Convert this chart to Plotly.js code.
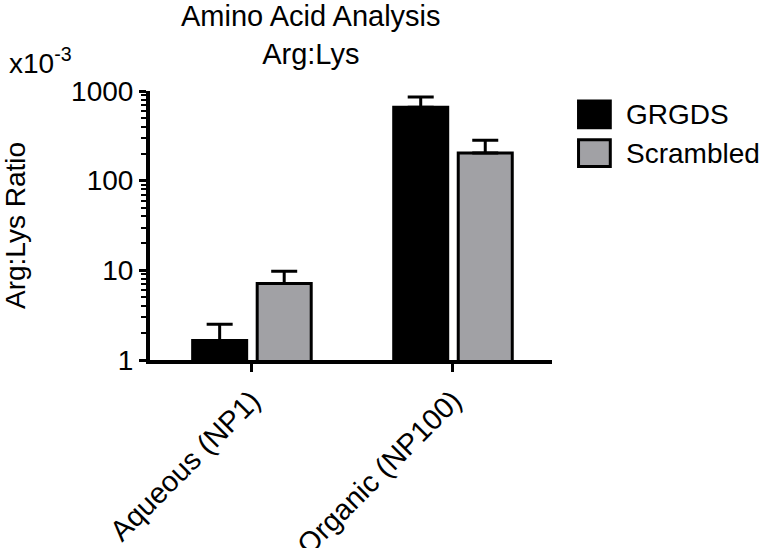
<!DOCTYPE html>
<html>
<head>
<meta charset="utf-8">
<script src="https://cdn.plot.ly/plotly-3.0.1.min.js"></script>
<style>
  body { margin: 0; background: #fff; }
  #plot { width: 768px; height: 548px; }
</style>
</head>
<body>
<div id="plot"></div>
<script>
// values are in units of 1e-3 (see the x10^-3 label)
const categories = ['Aqueous (NP1)', 'Organic (NP100)'];
const seriesNames = ['GRGDS', 'Scrambled'];
const grgds = [1.65, 660];
const grgdsErr = [0.85, 195];
const scrambled = [7.15, 203];
const scrambledErr = [2.6, 80];
const yTickVals = [1, 10, 100, 1000];
const yTickText = ['1', '10', '100', '1000'];

const colors = ['#000000', '#a1a1a5'];
const font = { family: 'Arial, "Liberation Sans", sans-serif', color: '#000' };

function barTrace (name, vals, errs, color) {
  return {
    type: 'bar',
    name,
    x: categories,
    y: vals,
    marker: { color, line: { color: '#000', width: 3 } },
    error_y: {
      type: 'data',
      symmetric: false,
      array: errs,
      arrayminus: errs.map(() => 0),
      color: '#000',
      thickness: 3,
      width: 13
    },
    showlegend: false
  };
}

const data = [
  barTrace(seriesNames[0], grgds, grgdsErr, colors[0]),
  barTrace(seriesNames[1], scrambled, scrambledErr, colors[1])
];

// legend drawn by hand so the swatches match the big boxes in the original
const legendShapes = [];
const legendLabels = [];
seriesNames.forEach((name, i) => {
  const top = 0.963 - i * 0.144;
  legendShapes.push({
    type: 'rect', xref: 'paper', yref: 'paper',
    x0: 1.066, x1: 1.145, y0: top - 0.1, y1: top,
    fillcolor: colors[i], line: { color: '#000', width: 3 }
  });
  legendLabels.push({
    xref: 'paper', yref: 'paper', x: 1.18, y: top - 0.05,
    xanchor: 'left', yanchor: 'middle', showarrow: false,
    text: name, font: Object.assign({ size: 28 }, font)
  });
});

const layout = {
  width: 768,
  height: 548,
  margin: { l: 150, r: 216, t: 91, b: 188 },
  paper_bgcolor: '#fff',
  plot_bgcolor: '#fff',
  font: Object.assign({ size: 28 }, font),
  showlegend: false,
  barmode: 'group',
  bargap: 0.358,
  bargroupgap: 0.163,
  title: {
    text: 'Amino Acid Analysis<br>Arg:Lys',
    font: Object.assign({ size: 29 }, font),
    xref: 'paper',
    x: 0.4,
    xanchor: 'center',
    yref: 'container',
    y: 0.952,
    yanchor: 'top'
  },
  xaxis: {
    range: [-0.507, 1.4925],
    showline: true,
    linecolor: '#000',
    linewidth: 4,
    ticks: 'outside',
    ticklen: 8,
    tickwidth: 3,
    tickcolor: '#000',
    tickangle: -45,
    tickfont: Object.assign({ size: 29 }, font),
    showgrid: false,
    zeroline: false,
    fixedrange: true
  },
  yaxis: {
    type: 'log',
    range: [0, 3],
    showline: true,
    linecolor: '#000',
    linewidth: 4,
    ticks: 'outside',
    ticklen: 7,
    tickwidth: 3,
    tickcolor: '#000',
    tickmode: 'array',
    tickvals: yTickVals,
    ticktext: yTickText,
    tickfont: Object.assign({ size: 28 }, font),
    minor: { ticks: 'outside', ticklen: 5, tickwidth: 2, tickcolor: '#000', dtick: 'D1', showgrid: false },
    showgrid: false,
    zeroline: false,
    automargin: false,
    title: { text: 'Arg:Lys Ratio', font: Object.assign({ size: 28 }, font), standoff: 42 },
    fixedrange: true
  },
  shapes: legendShapes,
  annotations: legendLabels.concat([{
    xref: 'paper', yref: 'paper', x: -0.356, y: 1.11,
    xanchor: 'left', yanchor: 'middle', showarrow: false,
    text: 'x10<sup>-3</sup>', font: Object.assign({ size: 28 }, font)
  }])
};

Plotly.newPlot('plot', data, layout, { displayModeBar: false, staticPlot: true });
</script>
</body>
</html>
